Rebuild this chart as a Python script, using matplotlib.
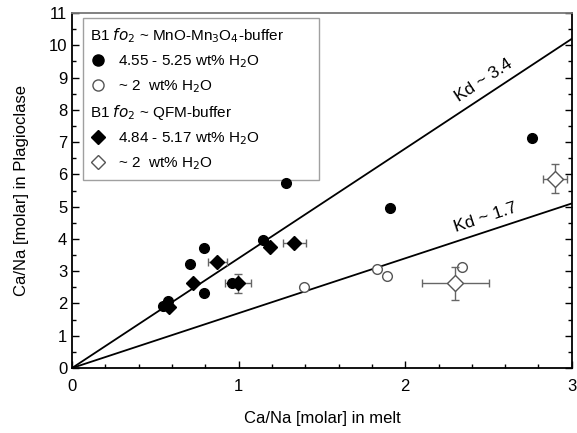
import numpy as np
import matplotlib.pyplot as plt
from matplotlib.lines import Line2D
from matplotlib.ticker import MultipleLocator

plt.rcParams['font.family'] = ['Liberation Sans', 'DejaVu Sans']

# MnO-Mn3O4 buffer, 4.55 - 5.25 wt% H2O (filled circles)
mno_wet_x = [0.545, 0.575, 0.711, 0.79, 0.79, 0.962, 1.146, 1.285, 1.908, 2.762]
mno_wet_y = [1.92, 2.08, 3.21, 3.72, 2.31, 2.62, 3.98, 5.72, 4.97, 7.14]

# MnO-Mn3O4 buffer, ~2 wt% H2O (open circles)
mno_dry_x = [1.395, 1.83, 1.89, 2.34]
mno_dry_y = [2.50, 3.07, 2.86, 3.12]

# QFM buffer, 4.84 - 5.17 wt% H2O (filled diamonds)
qfm_wet_x = [0.583, 0.726, 0.872, 0.996, 1.186, 1.335]
qfm_wet_y = [1.88, 2.64, 3.29, 2.62, 3.76, 3.88]
qfm_wet_xerr = [0, 0, 0.057, 0.078, 0, 0.07]
qfm_wet_yerr = [0, 0, 0, 0.30, 0, 0]

# QFM buffer, ~2 wt% H2O (open diamonds)
qfm_dry_x = [2.30, 2.90]
qfm_dry_y = [2.62, 5.87]
qfm_dry_xerr = [0.20, 0.07]
qfm_dry_yerr = [0.51, 0.46]

kd_values = [3.4, 1.7]
kd_labels = ['Kd ~ 3.4', 'Kd ~ 1.7']
kd_label_x = [2.47, 2.48]
kd_label_y = [8.9, 4.66]

fig = plt.figure(figsize=(5.77, 4.33), dpi=100)
ax = fig.add_axes([0.1248, 0.150, 0.8662, 0.820])

# Kd lines
xl = np.array([0, 3])
for kd, lab, tx, ty in zip(kd_values, kd_labels, kd_label_x, kd_label_y):
    ax.plot(xl, kd * xl, color='black', lw=1.3, zorder=2)
    ax.text(tx, ty, lab, fontsize=12.5, ha='center', va='center',
            rotation=np.degrees(np.arctan(kd)), rotation_mode='anchor',
            transform_rotates_text=True, zorder=3)

err_kw = dict(ecolor='#666666', elinewidth=1.0, capsize=3, capthick=1.0, linestyle='none')

ax.plot(mno_wet_x, mno_wet_y, 'o', color='black', ms=7, zorder=6)
ax.plot(mno_dry_x, mno_dry_y, 'o', mfc='white', mec='#555555', mew=1.0, ms=7, zorder=4)
ax.errorbar(qfm_wet_x, qfm_wet_y, xerr=qfm_wet_xerr, yerr=qfm_wet_yerr, fmt='D',
            color='black', ms=7, zorder=4, **err_kw)
ax.errorbar(qfm_dry_x, qfm_dry_y, xerr=qfm_dry_xerr, yerr=qfm_dry_yerr, fmt='D',
            mfc='white', mec='#555555', mew=1.0, ms=8, zorder=4, **err_kw)

ax.set_xlim(0, 3)
ax.set_ylim(0, 11)
ax.xaxis.set_major_locator(MultipleLocator(1))
ax.xaxis.set_minor_locator(MultipleLocator(0.2))
ax.yaxis.set_major_locator(MultipleLocator(1))
ax.yaxis.set_minor_locator(MultipleLocator(0.5))
ax.tick_params(which='both', direction='in', right=True, top=False, labelsize=12, width=1.0)
ax.tick_params(which='major', length=5)
ax.tick_params(which='minor', length=3)
ax.tick_params(axis='x', pad=8)
for s in ['left', 'bottom', 'right']:
    ax.spines[s].set_linewidth(1.3)
ax.spines['top'].set_color('#777777')
ax.spines['top'].set_linewidth(1.3)

ax.set_xlabel('Ca/Na [molar] in melt', fontsize=12, labelpad=12)
ax.set_ylabel('Ca/Na [molar] in Plagioclase', fontsize=12, labelpad=14)

# legend with group headings
blank = Line2D([], [], linestyle='none')
handles = [
    blank,
    Line2D([], [], marker='o', color='black', ms=8, linestyle='none'),
    Line2D([], [], marker='o', mfc='white', mec='#555555', ms=8, linestyle='none'),
    blank,
    Line2D([], [], marker='D', color='black', ms=7, linestyle='none'),
    Line2D([], [], marker='D', mfc='white', mec='#555555', ms=7, linestyle='none'),
]
labels = [
    r'B1 $fo_2$ ~ MnO-Mn$_3$O$_4$-buffer',
    r'4.55 - 5.25 wt% H$_2$O',
    r'~ 2  wt% H$_2$O',
    r'B1 $fo_2$ ~ QFM-buffer',
    r'4.84 - 5.17 wt% H$_2$O',
    r'~ 2  wt% H$_2$O',
]
leg = ax.legend(handles, labels, loc='upper left', bbox_to_anchor=(0.021, 0.985),
                fontsize=11, frameon=True, fancybox=False, edgecolor='#888888',
                handlelength=1.0, handletextpad=0.8, labelspacing=0.55,
                borderpad=0.5, borderaxespad=0)
leg.get_frame().set_linewidth(1.0)
leg.set_zorder(5)
for i in (0, 3):
    leg.get_texts()[i].set_position((-28, 0))

fig.savefig('out.png', dpi=100)
